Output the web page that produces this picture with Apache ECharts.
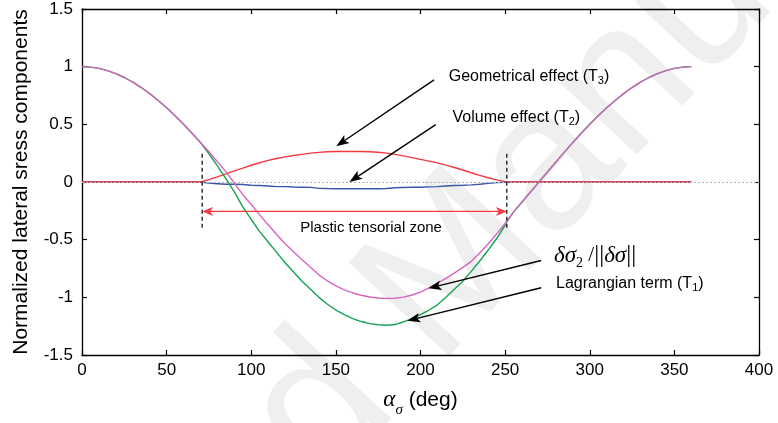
<!DOCTYPE html>
<html>
<head>
<meta charset="utf-8">
<script src="https://cdn.jsdelivr.net/npm/echarts@6/dist/echarts.min.js"></script>
<style>
  html, body { margin: 0; padding: 0; background: #ffffff; }
  #chart { width: 778px; height: 423px; }
</style>
</head>
<body>
<div id="chart"></div>
<script>
// Loading direction alpha_sigma (deg)
const alpha = [0, 5, 10, 15, 20, 25, 30, 35, 40, 45, 50, 55, 60, 65, 70, 71,
  75, 80, 85, 90, 95, 100, 105, 110, 115, 120, 125, 130, 135, 140, 145, 150, 155, 160, 165, 170,
  175, 180, 185, 190, 195, 200, 205, 210, 215, 220, 225, 230, 235, 240, 245, 250, 251,
  255, 260, 265, 270, 275, 280, 285, 290, 295, 300, 305, 310, 315, 320, 325, 330, 335, 340, 345, 350, 355, 360];

// Lagrangian term (T1)
const lagrangianT1 = [1, 0.996, 0.985, 0.966, 0.94, 0.906, 0.866, 0.819, 0.766, 0.707, 0.643, 0.574, 0.5, 0.423, 0.342, 0.326,
  0.245, 0.14, 0.03, -0.085, -0.215, -0.325, -0.43, -0.52, -0.61, -0.7, -0.78, -0.86, -0.93, -1.0, -1.06, -1.11, -1.15, -1.185, -1.21, -1.228,
  -1.238, -1.242, -1.236, -1.212, -1.185, -1.15, -1.11, -1.065, -1.0, -0.93, -0.86, -0.775, -0.685, -0.59, -0.49, -0.375, -0.345,
  -0.259, -0.174, -0.087, 0, 0.087, 0.174, 0.259, 0.342, 0.423, 0.5, 0.574, 0.643, 0.707, 0.766, 0.819, 0.866, 0.906, 0.94, 0.966, 0.985, 0.996, 1];

// Volume effect (T2)
const volumeT2 = [0, 0, 0, 0, 0, 0, 0, 0, 0, 0, 0, 0, 0, 0, 0, 0,
  -0.01, -0.015, -0.02, -0.02, -0.022, -0.028, -0.03, -0.035, -0.04, -0.04, -0.043, -0.045, -0.047, -0.055, -0.057, -0.058, -0.058, -0.058, -0.058, -0.058,
  -0.058, -0.056, -0.05, -0.048, -0.046, -0.045, -0.042, -0.04, -0.035, -0.03, -0.028, -0.025, -0.02, -0.012, -0.005, -0.002, 0,
  0, 0, 0, 0, 0, 0, 0, 0, 0, 0, 0, 0, 0, 0, 0, 0, 0, 0, 0, 0, 0, 0];

// Geometrical effect (T3)
const geometricT3 = [0, 0, 0, 0, 0, 0, 0, 0, 0, 0, 0, 0, 0, 0, 0, 0,
  0.02, 0.045, 0.07, 0.096, 0.12, 0.145, 0.167, 0.187, 0.204, 0.218, 0.23, 0.24, 0.25, 0.257, 0.262, 0.264, 0.264, 0.264, 0.264, 0.262,
  0.258, 0.25, 0.24, 0.226, 0.211, 0.196, 0.181, 0.166, 0.146, 0.126, 0.104, 0.08, 0.058, 0.037, 0.018, 0.003, 0,
  0, 0, 0, 0, 0, 0, 0, 0, 0, 0, 0, 0, 0, 0, 0, 0, 0, 0, 0, 0, 0, 0];

// Normalized increment delta sigma_2 / ||delta sigma||
const normalizedDs2 = [1, 0.996, 0.985, 0.966, 0.94, 0.906, 0.866, 0.819, 0.766, 0.707, 0.643, 0.574, 0.5, 0.423, 0.342, 0.326,
  0.262, 0.175, 0.09, -0.01, -0.11, -0.195, -0.285, -0.37, -0.455, -0.535, -0.605, -0.675, -0.74, -0.805, -0.858, -0.9, -0.935, -0.962, -0.982, -0.997,
  -1.006, -1.01, -1.008, -0.998, -0.98, -0.955, -0.918, -0.878, -0.835, -0.79, -0.74, -0.688, -0.615, -0.535, -0.45, -0.36, -0.345,
  -0.259, -0.174, -0.087, 0, 0.087, 0.174, 0.259, 0.342, 0.423, 0.5, 0.574, 0.643, 0.707, 0.766, 0.819, 0.866, 0.906, 0.94, 0.966, 0.985, 0.996, 1];

// Axis ranges
const xRange = [0, 400, 50];
const yRange = [-1.5, 1.5, 0.5];

// Plastic tensorial zone
const zoneEdges = [71, 251];
const zoneEdgeSpan = [0.245, -0.42];
const zoneArrowLevel = -0.255;

// Pointer arrows: tail -> head, in data units
const pointerTail = [[208.0, 0.886], [209.0, 0.497], [271.3, -0.681], [271.3, -0.917]];
const pointerHead = [[150.2, 0.31], [158.0, 0.0], [204.7, -0.922], [192.2, -1.203]];

// Annotation texts and anchors
const noteText = [
  'Geometrical effect (T{s|3})',
  'Volume effect (T{s|2})',
  'Plastic tensorial zone',
  '{m|δσ}{ms|2}{n| /}{b|||}{m|δσ}{b|||}',
  'Lagrangian term (T{s|1})'
];
const noteX = [216.7, 218.9, 170.8, 278.9, 280.1];
const noteY = [0.911, 0.558, -0.399, -0.638, -0.882];
const noteAlign = ['left', 'left', 'center', 'left', 'left'];
const noteSize = [16, 16, 15, 16, 16];

const SANS = 'Liberation Sans, Arial, Helvetica, sans-serif';
const SERIF = 'Liberation Serif, Times New Roman, serif';

function pairs(ys) { return alpha.map((a, i) => [a, ys[i]]); }

function arrowHead(tip, tail, len, half, notch, color) {
  const dx = tip[0] - tail[0], dy = tip[1] - tail[1];
  const d = Math.hypot(dx, dy) || 1;
  const ux = dx / d, uy = dy / d, px = -uy, py = ux;
  const bx = tip[0] - ux * len, by = tip[1] - uy * len;
  return {
    type: 'polygon',
    shape: { points: [
      tip,
      [bx + px * half, by + py * half],
      [tip[0] - ux * (len - notch), tip[1] - uy * (len - notch)],
      [bx - px * half, by - py * half]
    ] },
    style: { fill: color, stroke: null }
  };
}

function shorten(a, b, by) {
  const dx = b[0] - a[0], dy = b[1] - a[1];
  const d = Math.hypot(dx, dy) || 1;
  return [b[0] - dx / d * by, b[1] - dy / d * by];
}

const chart = echarts.init(document.getElementById('chart'), null, { renderer: 'canvas' });

const axisCommon = {
  type: 'value',
  splitLine: { show: false },
  axisLine: { show: true, onZero: false, lineStyle: { color: '#000', width: 1.3 } },
  axisTick: { show: true, inside: true, length: 5, lineStyle: { color: '#000', width: 1.2 } }
};

const lineCommon = {
  type: 'line',
  showSymbol: false,
  symbol: 'none',
  silent: true,
  animation: false,
  xAxisIndex: 0,
  yAxisIndex: 0
};

chart.setOption({
  animation: false,
  backgroundColor: '#ffffff',
  graphic: [{
    type: 'text',
    x: 428, y: 298,
    rotation: 47 * Math.PI / 180,
    silent: true,
    z: -10,
    style: {
      text: 'Accepted Manuscript',
      fontSize: 200,
      fontFamily: SANS,
      fill: '#efefef',
      align: 'center',
      verticalAlign: 'middle'
    }
  }],
  grid: { left: 82, right: 19, top: 9, bottom: 65, containLabel: false },
  xAxis: [
    Object.assign({}, axisCommon, {
      position: 'bottom',
      min: xRange[0], max: xRange[1], interval: xRange[2],
      axisLabel: { show: true, margin: 7, color: '#000', fontSize: 17, fontFamily: SANS },
      name: '{a|α}{b|σ}{c| (deg)}',
      nameLocation: 'middle',
      nameGap: 33,
      nameTextStyle: {
        rich: {
          a: { fontFamily: SERIF, fontStyle: 'italic', fontSize: 23, color: '#000', lineHeight: 24 },
          b: { fontFamily: SERIF, fontStyle: 'italic', fontSize: 15, color: '#000', verticalAlign: 'bottom', lineHeight: 24, padding: [0, 0, -6, 0] },
          c: { fontFamily: SANS, fontSize: 21, color: '#000', lineHeight: 24 }
        }
      }
    }),
    Object.assign({}, axisCommon, {
      position: 'top',
      min: xRange[0], max: xRange[1], interval: xRange[2],
      axisLabel: { show: false }
    })
  ],
  yAxis: [
    Object.assign({}, axisCommon, {
      position: 'left',
      min: yRange[0], max: yRange[1], interval: yRange[2],
      axisLabel: { show: true, margin: 9, color: '#000', fontSize: 17, fontFamily: SANS },
      name: 'Normalized lateral sress components',
      nameLocation: 'middle',
      nameGap: 50,
      nameTextStyle: { color: '#000', fontSize: 21, fontFamily: SANS }
    }),
    Object.assign({}, axisCommon, {
      position: 'right',
      min: yRange[0], max: yRange[1], interval: yRange[2],
      axisLabel: { show: false }
    })
  ],
  series: [
    Object.assign({}, lineCommon, {
      name: 'Volume effect (T2)',
      data: pairs(volumeT2),
      lineStyle: { color: '#3b55a8', width: 1.4 },
      z: 3,
      markLine: {
        silent: true,
        symbol: 'none',
        label: { show: false },
        lineStyle: { color: '#b5b5b5', type: [2, 2], width: 1 },
        data: [{ yAxis: 0 }]
      }
    }),
    Object.assign({}, lineCommon, {
      name: 'Geometrical effect (T3)',
      data: pairs(geometricT3),
      lineStyle: { color: '#f23a3f', width: 1.4 },
      z: 4
    }),
    Object.assign({}, lineCommon, {
      name: 'Lagrangian term (T1)',
      data: pairs(lagrangianT1),
      lineStyle: { color: '#14a352', width: 1.4 },
      z: 5
    }),
    Object.assign({}, lineCommon, {
      name: 'δσ2/‖δσ‖',
      data: pairs(normalizedDs2),
      lineStyle: { color: '#d665bf', width: 1.4 },
      z: 6
    }),
    {
      // dashed borders of the plastic tensorial zone
      type: 'custom',
      silent: true,
      z: 7,
      data: zoneEdges.map(x => [x, zoneEdgeSpan[0], x, zoneEdgeSpan[1]]),
      encode: { x: [0, 2], y: [1, 3] },
      renderItem(params, api) {
        const a = api.coord([api.value(0), api.value(1)]);
        const b = api.coord([api.value(2), api.value(3)]);
        return {
          type: 'line',
          shape: { x1: a[0], y1: a[1], x2: b[0], y2: b[1] },
          style: { stroke: '#000', lineWidth: 1.2, lineDash: [4, 3] }
        };
      }
    },
    {
      // double arrow spanning the plastic tensorial zone
      type: 'custom',
      silent: true,
      z: 7,
      data: [[zoneEdges[0], zoneArrowLevel, zoneEdges[1], zoneArrowLevel]],
      encode: { x: [0, 2], y: [1, 3] },
      renderItem(params, api) {
        const a = api.coord([api.value(0), api.value(1)]);
        const b = api.coord([api.value(2), api.value(3)]);
        const c = '#f23a3f';
        const a2 = shorten(b, a, 6), b2 = shorten(a, b, 6);
        return {
          type: 'group',
          children: [
            { type: 'line', shape: { x1: a2[0], y1: a2[1], x2: b2[0], y2: b2[1] }, style: { stroke: c, lineWidth: 1.4 } },
            arrowHead(a, b, 11, 4.5, 3, c),
            arrowHead(b, a, 11, 4.5, 3, c)
          ]
        };
      }
    },
    {
      // pointer arrows to the curves
      type: 'custom',
      silent: true,
      z: 8,
      data: pointerTail.map((p, i) => [p[0], p[1], pointerHead[i][0], pointerHead[i][1]]),
      encode: { x: [0, 2], y: [1, 3] },
      renderItem(params, api) {
        const a = api.coord([api.value(0), api.value(1)]);
        const b = api.coord([api.value(2), api.value(3)]);
        const b2 = shorten(a, b, 8);
        return {
          type: 'group',
          children: [
            { type: 'line', shape: { x1: a[0], y1: a[1], x2: b2[0], y2: b2[1] }, style: { stroke: '#000', lineWidth: 1.4 } },
            arrowHead(b, a, 13, 4.8, 3, '#000')
          ]
        };
      }
    },
    {
      // annotation texts
      type: 'custom',
      silent: true,
      z: 9,
      data: noteX.map((x, i) => [x, noteY[i], i]),
      encode: { x: 0, y: 1 },
      renderItem(params, api) {
        const i = api.value(2);
        const p = api.coord([api.value(0), api.value(1)]);
        const fs = noteSize[i];
        return {
          type: 'text',
          x: p[0], y: p[1],
          style: {
            text: noteText[i],
            fill: '#000',
            fontSize: fs,
            fontFamily: SANS,
            align: noteAlign[i],
            verticalAlign: 'middle',
            lineHeight: 20,
            rich: {
              s: { fontSize: 11, fontFamily: SANS, fill: '#000', verticalAlign: 'bottom', lineHeight: 20 },
              m: { fontSize: 23, fontFamily: SERIF, fontStyle: 'italic', fill: '#000', lineHeight: 28 },
              ms: { fontSize: 14, fontFamily: SERIF, fill: '#000', verticalAlign: 'bottom', lineHeight: 30 },
              n: { fontSize: 21, fontFamily: SERIF, fill: '#000', lineHeight: 28 },
              b: { fontSize: 25, fontFamily: SERIF, fill: '#000', lineHeight: 28 }
            }
          }
        };
      }
    }
  ]
});
</script>
</body>
</html>
